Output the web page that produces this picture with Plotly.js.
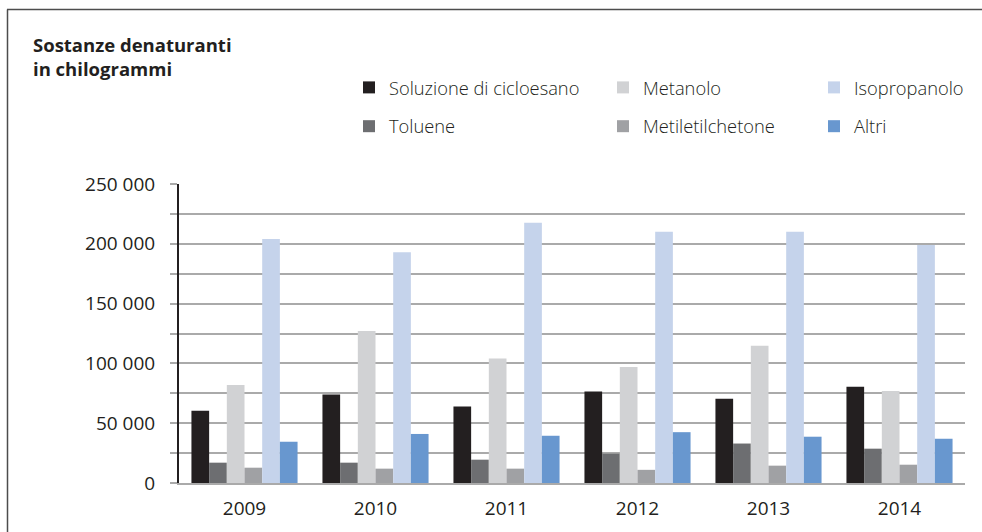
<!DOCTYPE html>
<html>
<head>
<meta charset="utf-8">
<script src="https://cdn.plot.ly/plotly-3.0.1.min.js"></script>
<style>
html,body{margin:0;padding:0;background:#fff;}
#chart{width:982px;height:532px;}
</style>
</head>
<body>
<div id="chart"></div>
<script>
const years = ["2009", "2010", "2011", "2012", "2013", "2014"];
const seriesNames = ["Soluzione di cicloesano", "Toluene", "Metanolo", "Metiletilchetone", "Isopropanolo", "Altri"];
const soluzione = [60500, 74000, 64000, 76500, 70500, 80500];
const toluene = [17000, 17000, 19500, 24500, 33000, 28700];
const metanolo = [82000, 127000, 104000, 97000, 114700, 77000];
const metiletil = [12800, 12000, 12000, 11000, 14500, 15300];
const isopropanolo = [204000, 193000, 217500, 210000, 210000, 199000];
const altri = [34500, 41000, 39500, 42500, 38700, 37000];
const yTickVals = [0, 50000, 100000, 150000, 200000, 250000];
const yTickText = ["0", "50 000", "100 000", "150 000", "200 000", "250 000"];

const values = [soluzione, toluene, metanolo, metiletil, isopropanolo, altri];
const colors = ["#231f20", "#6d6e71", "#d1d2d4", "#a0a1a4", "#c5d3eb", "#6897cf"];
const legendIds = ["legend", "legend", "legend2", "legend2", "legend3", "legend3"];

const W = 982, H = 532;
const L = 179, R = 965, T = 184, B = 483;
function px(x){ return (x - L) / (R - L); }
function py(y){ return (B - y) / (B - T); }

const traces = seriesNames.map((n, i) => ({
  type: "bar",
  name: n,
  x: years,
  y: values[i],
  marker: {color: colors[i], line: {width: 0}},
  legend: legendIds[i],
  legendgroup: "g" + i,
  hoverinfo: "x+y+name"
}));

const legendFont = {family: "Open Sans, sans-serif", size: 18.3, color: "#231f20", weight: 300};
function mkLegend(xpx){
  return {
    xref: "paper", yref: "container",
    x: px(xpx), y: 1 - 69 / H,
    xanchor: "left", yanchor: "top",
    orientation: "v",
    traceorder: "grouped",
    tracegroupgap: 12,
    font: legendFont,
    bgcolor: "rgba(0,0,0,0)",
    borderwidth: 0,
    itemclick: false, itemdoubleclick: false
  };
}

const tickFont = {family: "Open Sans, sans-serif", size: 19, color: "#231f20"};

const layout = {
  width: W, height: H,
  margin: {l: L, r: W - R, t: T, b: H - B, pad: 0},
  paper_bgcolor: "#ffffff",
  plot_bgcolor: "#ffffff",
  barmode: "group",
  bargap: 0.19,
  bargroupgap: 0,
  showlegend: true,
  legend: mkLegend(349),
  legend2: mkLegend(603),
  legend3: mkLegend(814),
  title: {
    text: "<b>Sostanze denaturanti<br>in chilogrammi</b>",
    xref: "container", yref: "container",
    x: 33 / W, xanchor: "left",
    y: 1 - 52 / H, yanchor: "top",
    font: {family: "Open Sans, sans-serif", size: 18.5, color: "#231f20"}
  },
  xaxis: {
    type: "category",
    showgrid: false,
    showline: true,
    linecolor: "#aaaaaa",
    linewidth: 2,
    ticks: "",
    zeroline: false,
    ticklabelstandoff: 7,
    tickfont: tickFont,
    fixedrange: true
  },
  yaxis: {
    range: [0, 250000],
    tickvals: yTickVals,
    ticktext: yTickText,
    showgrid: true,
    gridcolor: "#aaaaaa",
    gridwidth: 1.5,
    zeroline: false,
    showline: true,
    linecolor: "#231f20",
    linewidth: 2,
    ticks: "outside",
    ticklen: 7,
    tickcolor: "#aaaaaa",
    tickwidth: 1.5,
    ticklabelstandoff: 11,
    tickfont: tickFont,
    minor: {dtick: 25000, tick0: 0, showgrid: true, gridcolor: "#aaaaaa", gridwidth: 1.5, ticks: "outside", ticklen: 7, tickcolor: "#aaaaaa", tickwidth: 1.5},
    fixedrange: true
  },
  shapes: [
    {type: "line", xref: "paper", yref: "paper", x0: px(7), x1: px(982), y0: py(9.5), y1: py(9.5), line: {color: "#4d4d4d", width: 1.5}, layer: "below"},
    {type: "line", xref: "paper", yref: "paper", x0: px(7.5), x1: px(7.5), y0: py(9.5), y1: py(532), line: {color: "#4d4d4d", width: 1.5}, layer: "below"}
  ]
};

Plotly.newPlot("chart", traces, layout, {displayModeBar: false});
</script>
</body>
</html>
